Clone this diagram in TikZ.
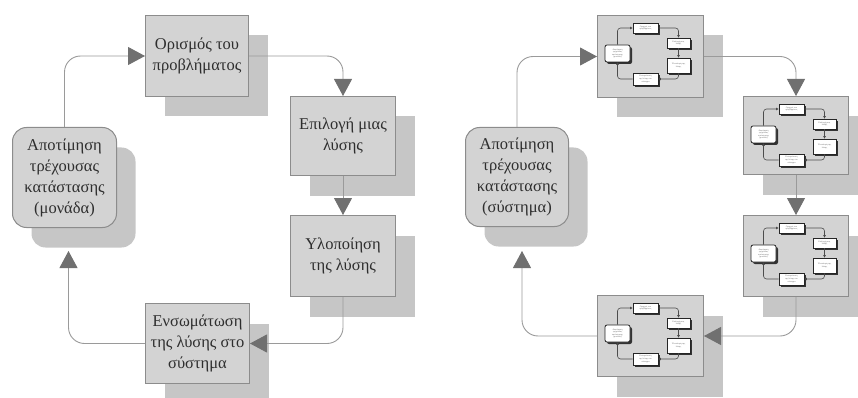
\documentclass[tikz,border=0pt]{standalone}
\usepackage{fontspec}
\setmainfont{Liberation Serif}
\usetikzlibrary{arrows.meta,shadows,calc}

\definecolor{boxfill}{HTML}{D3D3D3}
\definecolor{boxedge}{HTML}{8C8C8C}
\definecolor{shadefill}{HTML}{C6C6C6}
\definecolor{linegray}{HTML}{9A9A9A}
\definecolor{tipgray}{HTML}{707070}
\definecolor{inkgray}{HTML}{2E2E2E}

\tikzset{
  stage/.style={draw=boxedge, fill=boxfill, line width=1pt, inner sep=0pt,
    anchor=north west, align=center, text=inkgray,
    font=\fontsize{16.5}{21}\selectfont,
    general shadow={shadow xshift=19pt, shadow yshift=-20pt, fill=shadefill, draw=none}},
  evalbox/.style={stage, rounded corners=14pt},
  flow/.style={draw=linegray, line width=0.9pt, rounded corners=16pt,
    -{Triangle[length=17pt,width=18pt,color=tipgray]}},
  mini/.style={draw=black!85, fill=white, line width=0.8pt, inner sep=0pt,
    align=center, text=black!60, font=\fontsize{2.2}{2.6}\selectfont,
    general shadow={shadow xshift=2pt, shadow yshift=-2pt, fill=black!80, draw=none}},
  miniflow/.style={draw=black!70, line width=0.6pt, rounded corners=3pt,
    -{Triangle[length=2.5pt,width=2.5pt]}},
  minicycle/.pic={
    \node[mini, rounded corners=2pt, minimum width=25pt, minimum height=17pt] (-a) at (20.5,38.5)
      {Αποτίμηση\\τρέχουσας\\κατάστασης\\(μονάδα)};
    \node[mini, minimum width=25pt, minimum height=10pt] (-b) at (48.5,13)
      {Ορισμός του\\προβλήματος};
    \node[mini, minimum width=23pt, minimum height=10pt] (-c) at (81.5,28)
      {Επιλογή μιας\\λύσης};
    \node[mini, minimum width=23pt, minimum height=15pt] (-d) at (81.5,50.5)
      {Υλοποίηση της\\λύσης};
    \node[mini, minimum width=25pt, minimum height=12pt] (-e) at (48.5,64)
      {Ενσωμάτωση\\της λύσης στο\\σύστημα};
    \draw[miniflow] (-a.north) |- (-b.west);
    \draw[miniflow] (-b.east) -| (-c.north);
    \draw[miniflow] (-c.south) -- (-d.north);
    \draw[miniflow] (-d.south) |- (-e.east);
    \draw[miniflow] (-e.west) -| (-a.south);
  }
}

\begin{document}
\begin{tikzpicture}[x=1pt,y=-1pt]
  \useasboundingbox (0,0) rectangle (858,398);

  % ---- unit cycle (left) ----
  \node[evalbox, minimum width=104pt, minimum height=100pt] (eval) at (12,127)
    {Αποτίμηση\\τρέχουσας\\κατάστασης\\(μονάδα)};
  \node[stage, minimum width=103pt, minimum height=81pt] (def) at (145,15)
    {Ορισμός του\\προβλήματος};
  \node[stage, minimum width=105pt, minimum height=79pt] (sel) at (290,96)
    {Επιλογή μιας\\λύσης};
  \node[stage, minimum width=105pt, minimum height=81pt] (impl) at (290,215)
    {Υλοποίηση\\της λύσης};
  \node[stage, minimum width=104pt, minimum height=80pt] (integ) at (145,303)
    {Ενσωμάτωση\\της λύσης στο\\σύστημα};

  \draw[flow] (eval.north) |- (def.west);
  \draw[flow] (def.east) -| (sel.north);
  \draw[flow] (sel.south) -- (impl.north);
  \draw[flow] (impl.south) |- (integ.east);
  \coordinate (evalin) at ($(eval.south)+(4,23)$);
  \draw[flow] (integ.west) -| (evalin);

  % ---- system cycle (right) ----
  \node[evalbox, minimum width=103pt, minimum height=99pt] (seval) at (465,127)
    {Αποτίμηση\\τρέχουσας\\κατάστασης\\(σύστημα)};
  \node[stage, minimum width=106pt, minimum height=82pt] (sdef) at (597,15) {};
  \node[stage, minimum width=105pt, minimum height=78pt] (ssel) at (743,96) {};
  \node[stage, minimum width=105pt, minimum height=81pt] (simpl) at (743,215) {};
  \node[stage, minimum width=106pt, minimum height=81pt] (sinteg) at (597,295) {};

  \pic (mdef) at (sdef.north west) {minicycle};
  \pic (msel) at (ssel.north west) {minicycle};
  \pic (mimpl) at (simpl.north west) {minicycle};
  \pic (minteg) at (sinteg.north west) {minicycle};

  \draw[flow] (seval.north) |- (sdef.west);
  \draw[flow] (sdef.east) -| (ssel.north);
  \draw[flow] (ssel.south) -- (simpl.north);
  \draw[flow] (simpl.south) |- (sinteg.east);
  \coordinate (sevalin) at ($(seval.south)+(5,24)$);
  \draw[flow] (sinteg.west) -| (sevalin);
\end{tikzpicture}
\end{document}
